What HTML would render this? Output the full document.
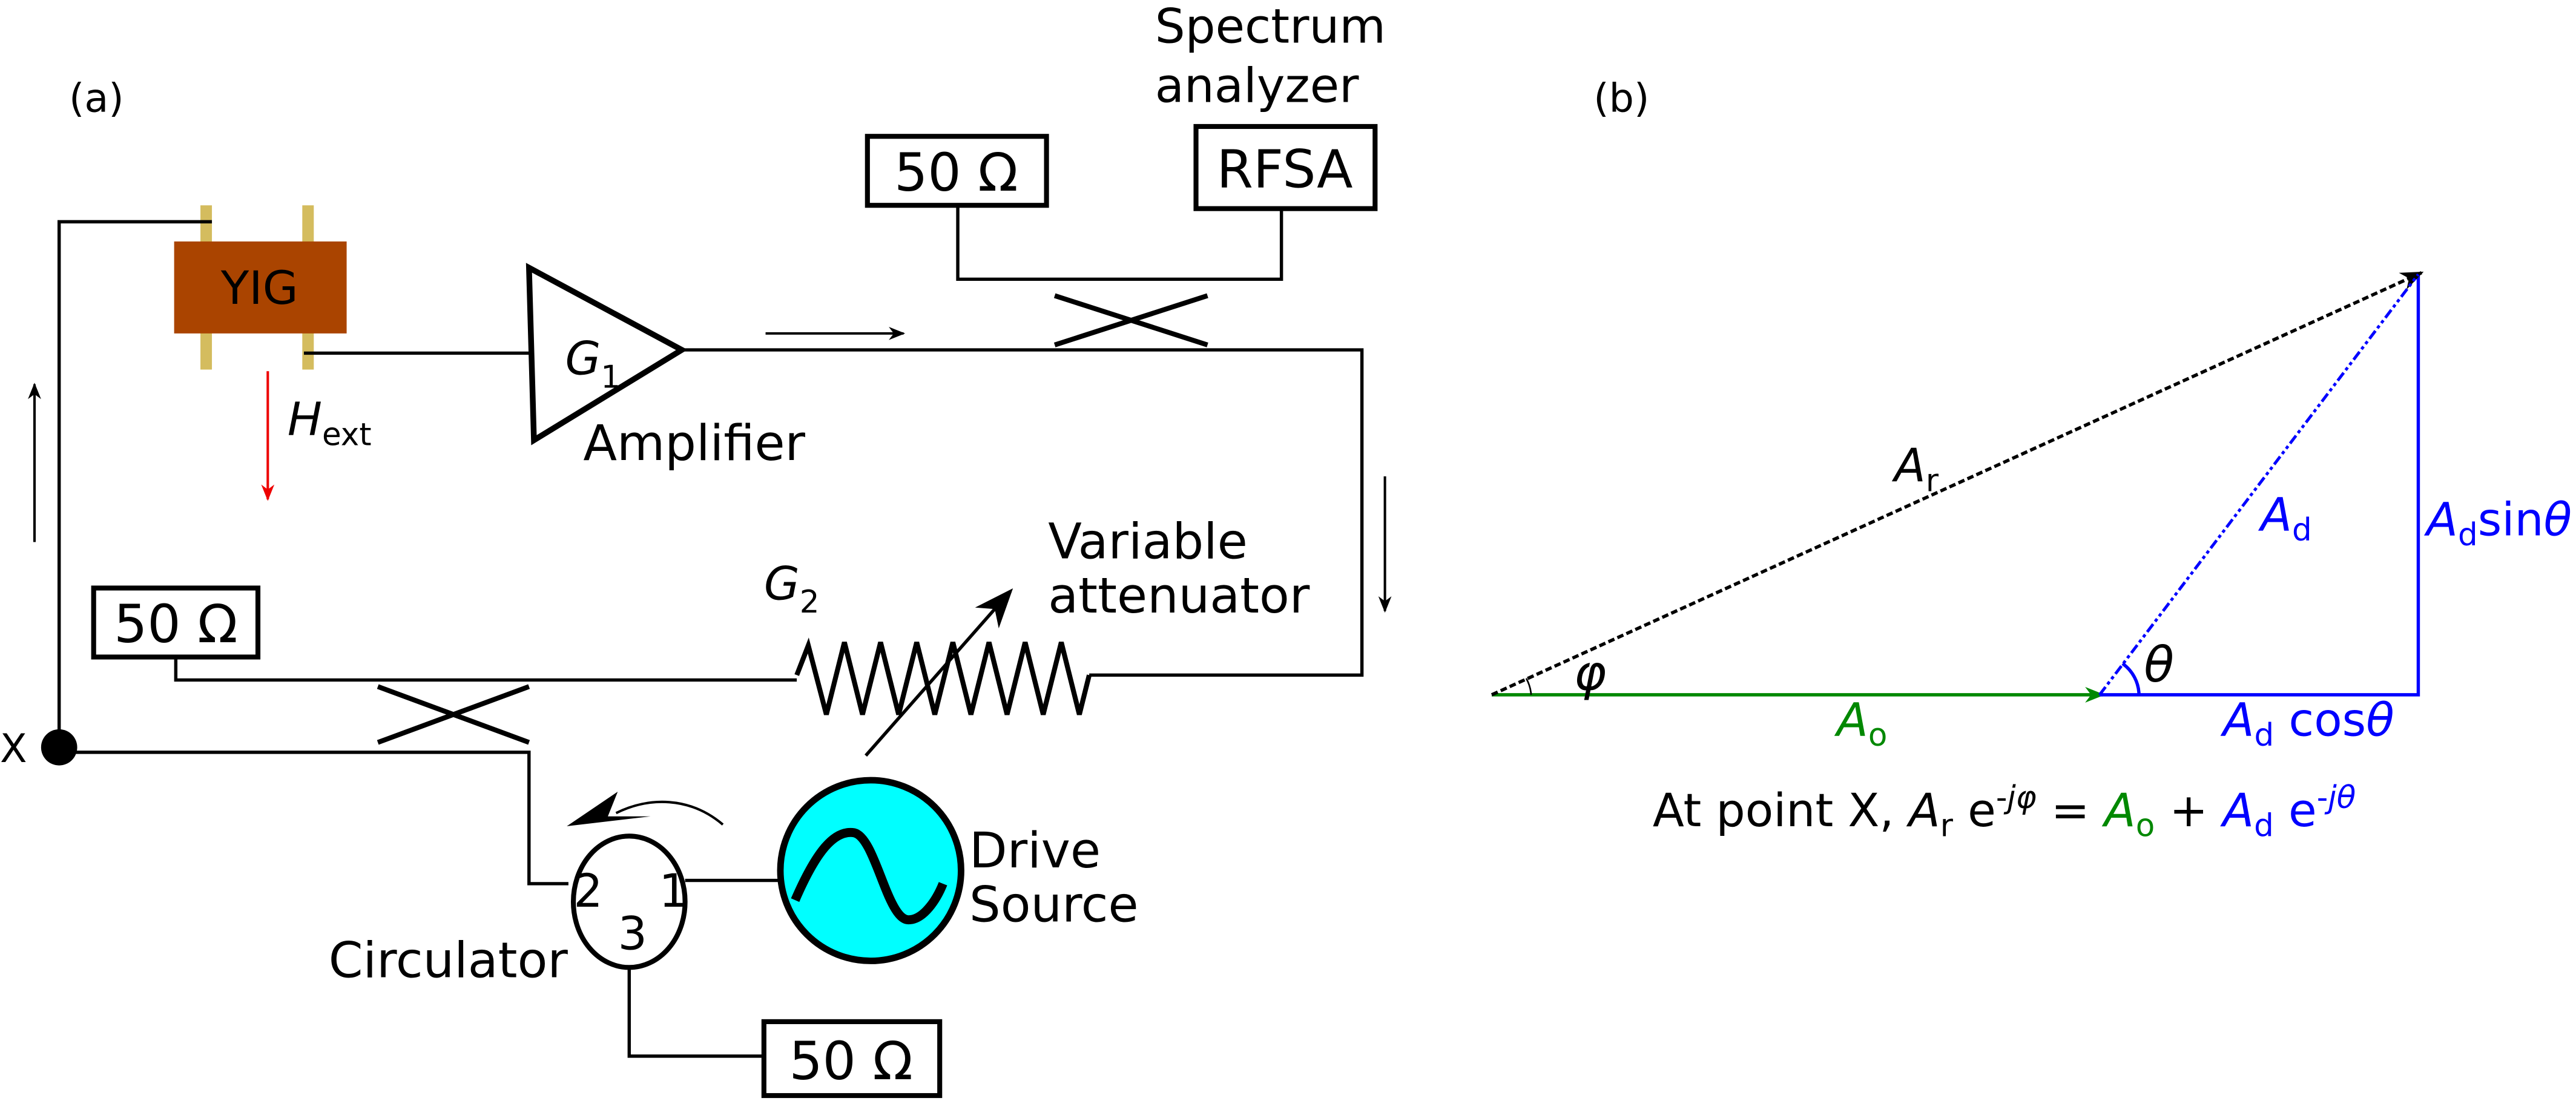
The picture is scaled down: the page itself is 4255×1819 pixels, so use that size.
<!DOCTYPE html>
<html><head><meta charset="utf-8"><style>
html,body{margin:0;padding:0;background:#fff;}
svg{display:block;}
text{font-family:"DejaVu Sans","Liberation Sans",sans-serif;}
</style></head><body>
<svg width="4255" height="1819" viewBox="0 0 1568 670.3" xmlns="http://www.w3.org/2000/svg">
<defs>
<marker id="ah" viewBox="0 0 10 10" refX="9" refY="5" markerWidth="16" markerHeight="10" orient="auto" markerUnits="userSpaceOnUse"><path d="M0,1 L10,5 L0,9 L3,5 z" fill="#000"/></marker>
<marker id="ahb" viewBox="0 0 10 10" refX="9" refY="5" markerWidth="24" markerHeight="24" orient="auto" markerUnits="userSpaceOnUse"><path d="M0,1 L10,5 L0,9 L3,5 z" fill="#000"/></marker>
<marker id="ahr" viewBox="0 0 10 10" refX="9" refY="5" markerWidth="24" markerHeight="10" orient="auto" markerUnits="userSpaceOnUse"><path d="M0,1 L10,5 L0,9 L3,5 z" fill="#e00"/></marker>
<marker id="ahg" viewBox="0 0 10 10" refX="9" refY="5" markerWidth="16" markerHeight="12" orient="auto" markerUnits="userSpaceOnUse"><path d="M0,1 L10,5 L0,9 L3,5 z" fill="#080"/></marker>
<marker id="ahk" viewBox="0 0 10 10" refX="9" refY="5" markerWidth="18" markerHeight="14" orient="auto" markerUnits="userSpaceOnUse"><path d="M0,1 L10,5 L0,9 L3,5 z" fill="#000"/></marker>
</defs>
<g fill="none" stroke="#000" stroke-width="2">
<!-- (a) -->
<text x="42" y="68" font-size="24" fill="#000" stroke="none">(a)</text>
<rect x="122" y="125" width="7" height="100" fill="#d4bc5e" stroke="none"/>
<rect x="184" y="125" width="7" height="100" fill="#d4bc5e" stroke="none"/>
<rect x="106" y="147" width="105" height="56" fill="#aa4400" stroke="none"/>
<text x="158" y="185" font-size="28" fill="#000" stroke="none" text-anchor="middle">YIG</text>
<polyline points="129,135 36,135 36,455"/>
<circle cx="36" cy="455" r="11" fill="#000" stroke="none"/>
<text x="0" y="464" font-size="24" fill="#000" stroke="none">X</text>
<line x1="21" y1="330" x2="21" y2="234" marker-end="url(#ah)" stroke-width="1.5"/>
<line x1="185" y1="215" x2="322" y2="215"/>
<polygon points="322,163 415,213 325,268" stroke-width="3.5" fill="#fff"/>
<text x="344" y="228" font-size="28" font-style="italic" fill="#000" stroke="none">G<tspan font-style="normal" font-size="19" dy="8">1</tspan></text>
<text x="355" y="280" font-size="30" fill="#000" stroke="none">Amplifier</text>
<line x1="163" y1="226" x2="163" y2="304" stroke="#e00" stroke-width="1.5" marker-end="url(#ahr)"/>
<text x="175" y="265" font-size="28" font-style="italic" fill="#000" stroke="none">H<tspan font-style="normal" font-size="19" dy="6">ext</tspan></text>
<polyline points="415,213 829,213 829,411 663,411"/>
<line x1="466" y1="203" x2="550" y2="203" stroke-width="1.5" marker-end="url(#ah)"/>
<line x1="843" y1="290" x2="843" y2="372" stroke-width="1.5" marker-end="url(#ah)"/>
<line x1="642" y1="180" x2="735" y2="210" stroke-width="3"/>
<line x1="642" y1="210" x2="735" y2="180" stroke-width="3"/>
<rect x="528" y="83" width="109" height="42" stroke-width="3"/>
<text x="582" y="116" font-size="32" fill="#000" stroke="none" text-anchor="middle">50 Ω</text>
<rect x="728" y="77" width="109" height="50" stroke-width="3"/>
<text x="782" y="114" font-size="32" fill="#000" stroke="none" text-anchor="middle">RFSA</text>
<text x="703" y="26" font-size="29" fill="#000" stroke="none">Spectrum</text>
<text x="703" y="62" font-size="29" fill="#000" stroke="none">analyzer</text>
<polyline points="583,125 583,170 780,170 780,127"/>
<polyline points="485,411 492,393 503,435 514,391 525,435 536,391 547,435 558,391 569,435 580,391 591,435 602,391 613,435 624,391 635,435 646,391 657,435 663,411" stroke-width="3"/>
<line x1="527" y1="460" x2="615" y2="360" stroke-width="2" marker-end="url(#ahb)"/>
<text x="465" y="365" font-size="28" font-style="italic" fill="#000" stroke="none">G<tspan font-style="normal" font-size="19" dy="8">2</tspan></text>
<text x="638" y="340" font-size="30" fill="#000" stroke="none">Variable</text>
<text x="638" y="373" font-size="30" fill="#000" stroke="none">attenuator</text>
<rect x="57" y="358" width="100" height="42" stroke-width="3"/>
<text x="107" y="391" font-size="32" fill="#000" stroke="none" text-anchor="middle">50 Ω</text>
<polyline points="107,400 107,414 485,414"/>
<line x1="230" y1="418" x2="322" y2="452" stroke-width="3"/>
<line x1="230" y1="452" x2="322" y2="418" stroke-width="3"/>
<polyline points="36,458 322,458 322,538 346,538"/>
<ellipse cx="383" cy="549" rx="34" ry="40" stroke-width="3" fill="#fff"/>
<text x="358" y="552" font-size="28" fill="#000" stroke="none" text-anchor="middle">2</text>
<text x="410" y="552" font-size="28" fill="#000" stroke="none" text-anchor="middle">1</text>
<text x="385" y="578" font-size="28" fill="#000" stroke="none" text-anchor="middle">3</text>
<text x="200" y="595" font-size="30" fill="#000" stroke="none">Circulator</text>
<line x1="417" y1="536" x2="475" y2="536"/>
<circle cx="530" cy="530" r="55" fill="#00ffff" stroke-width="4"/>
<path d="M484,548 C497,518 508,505 520,507 C533,510 540,560 553,560 C562,560 570,548 574,538" stroke-width="5.5"/>
<text x="590" y="528" font-size="30" fill="#000" stroke="none">Drive</text>
<text x="590" y="561" font-size="30" fill="#000" stroke="none">Source</text>
<path d="M440,502 C420,485 395,485 375,495" stroke-width="1.5"/>
<polygon points="345,503 376,482 370,497 396,497" fill="#000" stroke="none"/>
<polyline points="383,589 383,643 465,643"/>
<rect x="465" y="622" width="107" height="45" stroke-width="3"/>
<text x="518" y="657" font-size="32" fill="#000" stroke="none" text-anchor="middle">50 Ω</text>

<!-- (b) -->
<text x="970" y="68" font-size="24" fill="#000" stroke="none">(b)</text>
<line x1="908" y1="423" x2="1280" y2="423" stroke="#080" stroke-width="2" marker-end="url(#ahg)"/>
<polyline points="1278,423 1472,423 1472,167" stroke="#00f" stroke-width="2"/>
<line x1="908" y1="423" x2="1474" y2="166" stroke-width="2" stroke-dasharray="4,2" marker-end="url(#ahk)"/>
<line x1="1278" y1="423" x2="1472" y2="167" stroke="#00f" stroke-width="1.8" stroke-dasharray="6,2,2,2,2,2"/>
<path d="M932,423 A24,24 0 0 0 929,413" stroke-width="1"/>
<path d="M1302,423 A24,24 0 0 0 1292,404" stroke="#00f" stroke-width="2"/>
<text x="958" y="420" font-size="30" font-style="italic" fill="#000" stroke="none">φ</text>
<text x="1305" y="415" font-size="30" font-style="italic" fill="#000" stroke="none">θ</text>
<text x="1153" y="293" font-size="28" font-style="italic" fill="#000" stroke="none">A<tspan font-style="normal" font-size="19" dy="6">r</tspan></text>
<text x="1376" y="323" font-size="28" font-style="italic" fill="#00f" stroke="none">A<tspan font-style="normal" font-size="19" dy="6">d</tspan></text>
<text x="1477" y="326" font-size="28" fill="#00f" stroke="none"><tspan font-style="italic">A</tspan><tspan font-size="19" dy="6">d</tspan><tspan dy="-6">sin</tspan><tspan font-style="italic">θ</tspan></text>
<text x="1353" y="448" font-size="28" fill="#00f" stroke="none"><tspan font-style="italic">A</tspan><tspan font-size="19" dy="6">d</tspan><tspan dy="-6"> cos</tspan><tspan font-style="italic">θ</tspan></text>
<text x="1118" y="448" font-size="28" font-style="italic" fill="#080" stroke="none">A<tspan font-style="normal" font-size="19" dy="6">o</tspan></text>
<text x="1006" y="503" font-size="28" fill="#000" stroke="none">At point X, <tspan font-style="italic">A</tspan><tspan font-size="19" dy="6">r</tspan><tspan dy="-6"> e</tspan><tspan font-size="19" dy="-11">-</tspan><tspan font-size="19" font-style="italic">jφ</tspan><tspan dy="11"> = </tspan><tspan fill="#080" font-style="italic">A</tspan><tspan fill="#080" font-size="19" dy="6">o</tspan><tspan dy="-6"> + </tspan><tspan fill="#00f" font-style="italic">A</tspan><tspan fill="#00f" font-size="19" dy="6">d</tspan><tspan fill="#00f" dy="-6"> e</tspan><tspan fill="#00f" font-size="19" dy="-11">-</tspan><tspan fill="#00f" font-size="19" font-style="italic">jθ</tspan></text>
</g>
</svg>
</body></html>
